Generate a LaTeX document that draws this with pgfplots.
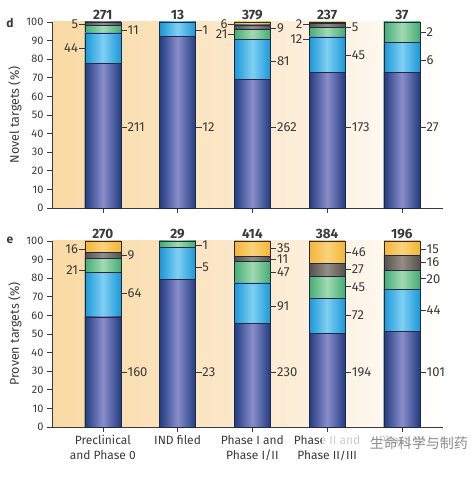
\documentclass[border=0pt]{standalone}
\usepackage{pgfplots}
\pgfplotsset{compat=1.18}
\usepackage{fontspec}
\setmainfont{Fira Sans}
\newfontfamily\cjk{Noto Sans CJK SC}
\definecolor{dbE}{HTML}{213C82}\definecolor{dbC}{HTML}{8A8ECA}
\definecolor{lbE}{HTML}{1A98D8}\definecolor{lbC}{HTML}{80CFF2}
\definecolor{gnE}{HTML}{43AD75}\definecolor{gnC}{HTML}{A2DAB2}
\definecolor{gyE}{HTML}{57514C}\definecolor{gyC}{HTML}{948E86}
\definecolor{orE}{HTML}{F4B534}\definecolor{orC}{HTML}{FAD37C}
\definecolor{txt}{HTML}{3A3A3A}
\definecolor{bgL}{HTML}{F9DAA4}\definecolor{bgM}{HTML}{FBE8CC}
\definecolor{edge}{HTML}{1E2A44}
\newcommand\vfont{\fontsize{13}{15}\selectfont}
\newcommand\RR[3]{\draw[txt,line width=0.6pt] ([xshift=18pt]axis cs:#1,#2) -- ([xshift=24pt]axis cs:#1,#2) node[right,inner sep=0.5pt,text=txt,font=\vfont]{#3};}
\newcommand\LL[3]{\draw[txt,line width=0.6pt] ([xshift=-18pt]axis cs:#1,#2) -- ([xshift=-24pt]axis cs:#1,#2) node[left,inner sep=0.5pt,text=txt,font=\vfont]{#3};}
\newcommand\TT[3]{\node[text=txt,font=\fontsize{13.5}{15}\selectfont\bfseries] at (axis cs:#1,#2){#3};}
% one bar: x, then segment percentages bottom to top (dark blue, light blue, green, grey, orange)
\newcommand\stk[6]{%
 \pgfmathsetmacro\cA{#2}\pgfmathsetmacro\cB{#2+#3}\pgfmathsetmacro\cC{#2+#3+#4}%
 \pgfmathsetmacro\cD{#2+#3+#4+#5}\pgfmathsetmacro\cE{#2+#3+#4+#5+#6}%
 \edef\tmp{%
  \noexpand\addplot[sOr] coordinates {(#1,\cE)};
  \noexpand\addplot[sGy] coordinates {(#1,\cD)};
  \noexpand\addplot[sGn] coordinates {(#1,\cC)};
  \noexpand\addplot[sLb] coordinates {(#1,\cB)};
  \noexpand\addplot[sDb] coordinates {(#1,\cA)};
 }\tmp}
\pgfplotsset{
 panel/.style={
  scale only axis, width=391pt, height=186pt,
  xmin=-0.68, xmax=4.55, ymin=0, ymax=100,
  axis x line*=bottom, axis y line*=left,
  axis line style={draw=txt,line width=0.6pt},
  xtick={0,1,2,3,4}, ytick={0,10,...,100},
  tick align=outside, major tick length=5pt,
  tick style={draw=txt,line width=0.6pt},
  yticklabel style={font=\fontsize{11}{12}\selectfont,text=txt},
  /pgf/number format/assume math mode=true,
  ybar, bar width=36pt,
  axis background/.style={left color=bgL,right color=white,middle color=bgM},
  clip=false,
  ylabel style={at={(axis description cs:-0.0946,0.5)},anchor=center,font=\fontsize{12.5}{14}\selectfont,text=txt},
 },
 sDb/.style={bar shift=0pt,draw=edge,line width=0.5pt,left color=dbE,right color=dbE,middle color=dbC},
 sLb/.style={bar shift=0pt,draw=edge,line width=0.5pt,left color=lbE,right color=lbE,middle color=lbC},
 sGn/.style={bar shift=0pt,draw=edge,line width=0.5pt,left color=gnE,right color=gnE,middle color=gnC},
 sGy/.style={bar shift=0pt,draw=edge,line width=0.5pt,left color=gyE,right color=gyE,middle color=gyC},
 sOr/.style={bar shift=0pt,draw=edge,line width=0.5pt,left color=orE,right color=orE,middle color=orC},
}
\begin{document}
\begin{tikzpicture}
\useasboundingbox (0,0) rectangle (475pt,478pt);
% panel d: Novel targets (% of each bar)
\begin{axis}[panel, at={(52pt,270pt)}, anchor=south west, xticklabels={}, ylabel={Novel targets (\%)}]
\stk{0}{77.86}{16.24}{4.06}{1.84}{0}
\stk{1}{92.31}{7.69}{0}{0}{0}
\stk{2}{69.13}{21.37}{5.54}{2.37}{1.59}
\stk{3}{73.00}{18.99}{5.06}{2.11}{0.84}
\stk{4}{72.97}{16.22}{10.81}{0}{0}
\LL{0}{98.6}{5}\RR{0}{95.5}{11}\LL{0}{86}{44}\RR{0}{43.5}{211}
\RR{1}{95.5}{1}\RR{1}{43.5}{12}
\LL{2}{98.8}{6}\LL{2}{93.6}{21}\RR{2}{96.5}{9}\RR{2}{79}{81}\RR{2}{43.5}{262}
\LL{3}{98.8}{2}\LL{3}{90.8}{12}\RR{3}{97.3}{5}\RR{3}{82}{45}\RR{3}{43.5}{173}
\RR{4}{94.6}{2}\RR{4}{79.6}{6}\RR{4}{43.5}{27}
\TT{0}{104}{271}\TT{1}{104}{13}\TT{2}{104}{379}\TT{3}{104}{237}\TT{4}{104}{37}
\end{axis}
% panel e: Proven targets
\begin{axis}[panel, at={(52pt,51pt)}, anchor=south west, ylabel={Proven targets (\%)},
  xticklabels={Preclinical\\and Phase 0, IND filed, Phase I and\\Phase I/II, Phase II and\\Phase II/III, Phase III},
  xticklabel style={align=center,font=\fontsize{12}{15}\selectfont,text=txt}]
\stk{0}{59.26}{23.70}{7.78}{3.33}{5.93}
\stk{1}{79.31}{17.24}{3.45}{0}{0}
\stk{2}{55.56}{21.98}{11.35}{2.66}{8.45}
\stk{3}{50.52}{18.75}{11.72}{7.03}{11.98}
\stk{4}{51.53}{22.45}{10.20}{8.16}{7.66}
\LL{0}{95.7}{16}\LL{0}{84.5}{21}\RR{0}{92.5}{9}\RR{0}{71.7}{64}\RR{0}{29.4}{160}
\RR{1}{97.9}{1}\RR{1}{86}{5}\RR{1}{29.4}{23}
\RR{2}{96.3}{35}\RR{2}{90.4}{11}\RR{2}{83.4}{47}\RR{2}{64.7}{91}\RR{2}{29.4}{230}
\RR{3}{94.1}{46}\RR{3}{85}{27}\RR{3}{75.4}{45}\RR{3}{59.9}{72}\RR{3}{29.4}{194}
\RR{4}{95.7}{15}\RR{4}{88.8}{16}\RR{4}{79.7}{20}\RR{4}{62.6}{44}\RR{4}{29.4}{101}
\TT{0}{103.8}{270}\TT{1}{103.8}{29}\TT{2}{103.8}{414}\TT{3}{103.8}{384}\TT{4}{103.8}{196}
\end{axis}
\node[font=\bfseries\fontsize{12}{14}\selectfont,text=txt] at (10pt,455pt) {d};
\node[font=\bfseries\fontsize{12}{14}\selectfont,text=txt] at (10pt,238pt) {e};
\fill[white,opacity=0.75] (322pt,27pt) rectangle (471pt,44pt);
\node[anchor=east,font=\cjk\fontsize{14}{15}\selectfont,text=black!45,inner sep=0pt] at (468pt,35pt) {生命科学与制药};
\end{tikzpicture}
\end{document}
